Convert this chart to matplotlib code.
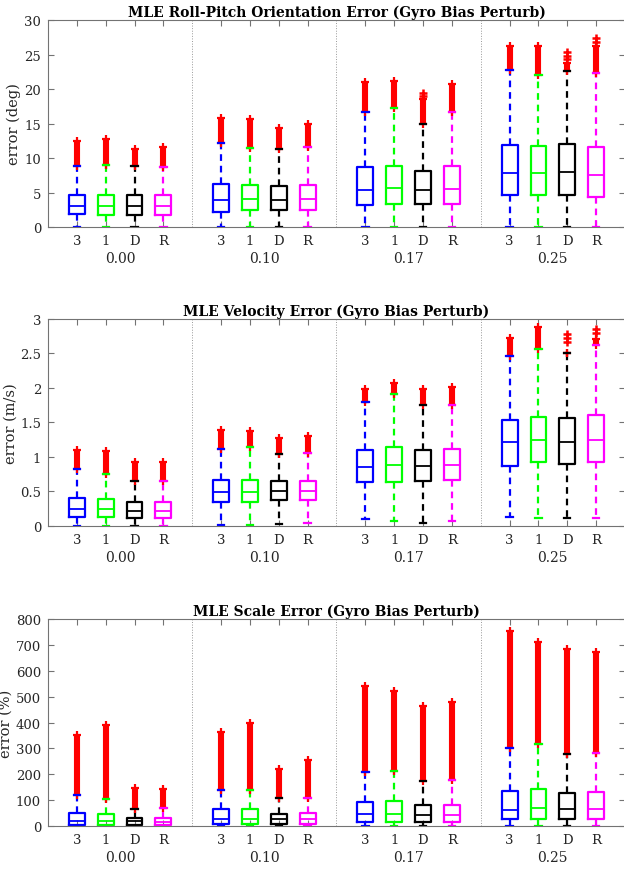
import numpy as np
import matplotlib
matplotlib.use("Agg")
import matplotlib.pyplot as plt
import matplotlib.transforms as mtransforms

plt.rcParams['font.family'] = ['DejaVu Serif']

# Categories
groups = ['0.00', '0.10', '0.17', '0.25']
methods = ['3', '1', 'D', 'R']
colors = ['#0000FF', '#00FF00', '#000000', '#FF00FF']

titles = ['MLE Roll-Pitch Orientation Error (Gyro Bias Perturb)',
          'MLE Velocity Error (Gyro Bias Perturb)',
          'MLE Scale Error (Gyro Bias Perturb)']
ylabels = ['error (deg)', 'error (m/s)', 'error (%)']
ylims = [(0, 30), (0, 3), (0, 800)]
yticks = [[0, 5, 10, 15, 20, 25, 30],
          [0, 0.5, 1, 1.5, 2, 2.5, 3],
          [0, 100, 200, 300, 400, 500, 600, 700, 800]]
ytlabels = [['0', '5', '10', '15', '20', '25', '30'],
            ['0', '0.5', '1', '1.5', '2', '2.5', '3'],
            ['0', '100', '200', '300', '400', '500', '600', '700', '800']]

# --- roll-pitch orientation error (deg), rows = groups, cols = methods 3,1,D,R
rp_med = [[3.0, 3.0, 3.0, 3.1], [3.9, 4.0, 3.9, 4.0], [5.4, 5.6, 5.4, 5.5], [7.8, 7.9, 8.0, 7.5]]
rp_q1 = [[1.9, 1.8, 1.8, 1.8], [2.2, 2.4, 2.4, 2.4], [3.2, 3.3, 3.4, 3.4], [4.6, 4.6, 4.7, 4.3]]
rp_q3 = [[4.6, 4.7, 4.7, 4.6], [6.2, 6.1, 6.0, 6.1], [8.7, 8.9, 8.1, 8.8], [11.9, 11.8, 12.1, 11.6]]
rp_wlo = [[0, 0, 0, 0], [0, 0, 0, 0], [0, 0, 0, 0], [0, 0, 0, 0]]
rp_whi = [[8.9, 9.0, 8.8, 8.7], [12.2, 11.5, 11.3, 11.6], [16.7, 17.2, 15.0, 16.7], [22.7, 22.1, 22.6, 22.3]]
rp_top = [[12.5, 12.7, 11.3, 11.6], [15.8, 15.6, 14.3, 15.0], [21.0, 21.2, 18.6, 20.8], [26.3, 26.2, 23.8, 26.3]]
rp_extra = {(2, 2): [19.0, 19.4], (3, 2): [24.4, 24.8, 25.3], (3, 3): [26.8, 27.4]}

# --- velocity error (m/s)
ve_med = [[0.24, 0.24, 0.22, 0.22], [0.49, 0.49, 0.50, 0.51], [0.86, 0.88, 0.87, 0.88], [1.21, 1.24, 1.21, 1.25]]
ve_q1 = [[0.13, 0.13, 0.12, 0.12], [0.35, 0.35, 0.37, 0.37], [0.63, 0.63, 0.65, 0.67], [0.87, 0.92, 0.90, 0.92]]
ve_q3 = [[0.41, 0.39, 0.35, 0.35], [0.66, 0.67, 0.65, 0.65], [1.10, 1.15, 1.10, 1.12], [1.53, 1.58, 1.57, 1.61]]
ve_wlo = [[0, 0, 0, 0], [0.02, 0.02, 0.03, 0.04], [0.10, 0.07, 0.04, 0.07], [0.13, 0.11, 0.11, 0.12]]
ve_whi = [[0.82, 0.76, 0.65, 0.65], [1.11, 1.15, 1.05, 1.06], [1.80, 1.91, 1.75, 1.76], [2.47, 2.56, 2.50, 2.63]]
ve_top = [[1.10, 1.09, 0.93, 0.92], [1.39, 1.37, 1.27, 1.30], [1.98, 2.07, 1.98, 2.01], [2.73, 2.88, 2.50, 2.71]]
ve_extra = {(3, 2): [2.67, 2.72, 2.78], (3, 3): [2.80, 2.86]}

# --- scale error (%)
sc_med = [[19, 19, 19, 15], [28, 28, 26, 28], [45, 45, 41, 41], [63, 68, 66, 64]]
sc_q1 = [[5, 3, 3, 3], [9, 9, 8, 8], [15, 15, 15, 15], [26, 28, 28, 26]]
sc_q3 = [[52, 45, 31, 32], [64, 64, 48, 52], [94, 98, 82, 82], [137, 144, 129, 130]]
sc_wlo = [[0, 0, 0, 0], [0, 0, 0, 0], [0, 0, 0, 0], [0, 0, 0, 0]]
sc_whi = [[118, 103, 67, 71], [140, 140, 108, 110], [209, 211, 175, 179], [300, 317, 280, 283]]
sc_top = [[352, 392, 148, 145], [365, 397, 222, 257], [542, 520, 462, 478], [755, 710, 683, 672]]
sc_extra = {}

panels = [
    (rp_med, rp_q1, rp_q3, rp_wlo, rp_whi, rp_top, rp_extra),
    (ve_med, ve_q1, ve_q3, ve_wlo, ve_whi, ve_top, ve_extra),
    (sc_med, sc_q1, sc_q3, sc_wlo, sc_whi, sc_top, sc_extra),
]

fig = plt.figure(figsize=(6.24, 8.7), dpi=100)
axes_bottoms = [0.7379, 0.3943, 0.0494]
ax_left, ax_w, ax_h = 0.0769, 0.9247, 0.2379

axis_col = '0.45'
text_col = '0.15'

for p, (med, q1, q3, wlo, whi, top, extra) in enumerate(panels):
    ax = fig.add_axes([ax_left, axes_bottoms[p], ax_w, ax_h])
    positions = []
    stats = []
    for g in range(len(groups)):
        for m in range(len(methods)):
            positions.append(g * 5 + m + 1)
            stats.append(dict(med=med[g][m], q1=q1[g][m], q3=q3[g][m],
                              whislo=wlo[g][m], whishi=whi[g][m], fliers=[]))
    art = ax.bxp(stats, positions=positions, widths=0.55, capwidths=0.22,
                 showfliers=False, patch_artist=False,
                 boxprops=dict(linewidth=1.6),
                 whiskerprops=dict(linewidth=1.6, linestyle=(0, (3, 2.2))),
                 capprops=dict(linewidth=1.6),
                 medianprops=dict(linewidth=1.3))
    for i in range(len(stats)):
        c = colors[i % 4]
        art['boxes'][i].set_color(c)
        art['medians'][i].set_color(c)
        art['whiskers'][2 * i].set_color(c)
        art['whiskers'][2 * i + 1].set_color(c)
        art['caps'][2 * i].set_color(c)
        art['caps'][2 * i + 1].set_color(c)
        art['caps'][2 * i + 1].set_zorder(4)

    # outliers: dense bands of red '+' markers
    for g in range(len(groups)):
        for m in range(len(methods)):
            x = g * 5 + m + 1
            ax.plot([x, x], [whi[g][m], top[g][m]], color='#FF0000',
                    linewidth=4.4, solid_capstyle='butt', zorder=3)
            ax.plot([x, x], [whi[g][m], top[g][m]], linestyle='none',
                    marker='+', color='#FF0000', markersize=6, mew=1.6, zorder=3)
            if (g, m) in extra:
                ev = extra[(g, m)]
                ax.plot([x] * len(ev), ev, linestyle='none', marker='+',
                        color='#FF0000', markersize=6, mew=1.8, zorder=3)

    for s in [5, 10, 15]:
        ax.axvline(s, color='0.6', linestyle=':', linewidth=0.7, zorder=0)

    ax.set_xlim(0, 20)
    ax.set_ylim(*ylims[p])
    ax.set_xticks(positions)
    ax.set_xticklabels(methods * len(groups))
    ax.set_yticks(yticks[p])
    ax.set_yticklabels(ytlabels[p])
    ax.tick_params(direction='in', length=4, width=0.8, colors=axis_col,
                   labelcolor=text_col, labelsize=9.5, top=True, right=True,
                   pad=5)
    for sp in ax.spines.values():
        sp.set_color(axis_col)
        sp.set_linewidth(0.8)
    ax.set_ylabel(ylabels[p], fontsize=10.5, color=text_col, labelpad=2)
    ax.set_title(titles[p], fontsize=10, fontweight='bold', color='black', pad=3)

    trans = mtransforms.blended_transform_factory(ax.transData, ax.transAxes)
    for g, name in enumerate(groups):
        ax.text(g * 5 + 2.5, -0.15, name, transform=trans, ha='center',
                va='center', fontsize=10, color=text_col)

fig.savefig('out.png', dpi=100)
